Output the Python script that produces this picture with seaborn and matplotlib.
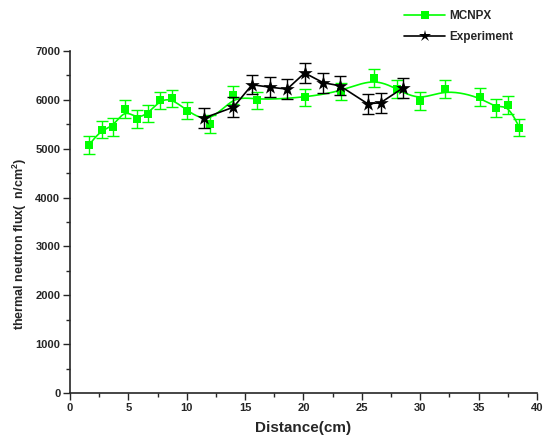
import numpy as np
import pandas as pd
import matplotlib
matplotlib.use("Agg")
import matplotlib.pyplot as plt
from matplotlib.lines import Line2D
from matplotlib.ticker import MultipleLocator
import seaborn as sns

# ---- data ----
mcnpx_x = [1.6, 2.7, 3.7, 4.7, 5.7, 6.7, 7.7, 8.7, 10.0, 12.0, 14.0, 16.0,
           20.1, 23.2, 26.0, 28.0, 30.0, 32.1, 35.1, 36.5, 37.5, 38.5]
mcnpx_y = [5070, 5390, 5450, 5810, 5610, 5720, 5990, 6030, 5780, 5500, 6100, 5990,
           6050, 6170, 6450, 6220, 5980, 6220, 6060, 5830, 5900, 5430]
mcnpx_err = [180] * len(mcnpx_x)

exp_x = [11.5, 14.0, 15.6, 17.1, 18.6, 20.1, 21.7, 23.1, 25.5, 26.6, 28.5]
exp_y = [5630, 5850, 6310, 6260, 6220, 6550, 6350, 6290, 5920, 5940, 6240]
exp_err = [200] * len(exp_x)

GREEN = "#00ff00"

sns.set_style("ticks")
plt.rcParams["font.family"] = ["Liberation Sans", "DejaVu Sans"]
plt.rcParams["mathtext.fontset"] = "custom"
plt.rcParams["mathtext.rm"] = "Liberation Sans:bold"
plt.rcParams["mathtext.it"] = "Liberation Sans:bold"
plt.rcParams["mathtext.bf"] = "Liberation Sans:bold"

fig = plt.figure(figsize=(5.45, 4.45), dpi=100)
ax = fig.add_axes([0.1284, 0.1169, 0.8569, 0.7685])


def bspline(xs, ys, n=30):
    # uniform cubic B-spline using data points as control points (clamped)
    P = np.column_stack([xs, ys]).astype(float)
    P = np.vstack([P[0], P[0], P, P[-1], P[-1]])
    out = []
    t = np.linspace(0, 1, n, endpoint=False)
    b0 = (1 - t) ** 3 / 6
    b1 = (3 * t ** 3 - 6 * t ** 2 + 4) / 6
    b2 = (-3 * t ** 3 + 3 * t ** 2 + 3 * t + 1) / 6
    b3 = t ** 3 / 6
    for i in range(len(P) - 3):
        seg = (np.outer(b0, P[i]) + np.outer(b1, P[i + 1]) +
               np.outer(b2, P[i + 2]) + np.outer(b3, P[i + 3]))
        out.append(seg)
    out.append(P[-1][None, :])
    return np.vstack(out)

curve = bspline(mcnpx_x, mcnpx_y)
ax.plot(curve[:, 0], curve[:, 1], color=GREEN, lw=1.2, zorder=2)

ax.errorbar(mcnpx_x, mcnpx_y, yerr=mcnpx_err, fmt="none", ecolor=GREEN,
            elinewidth=1.0, capsize=4, capthick=1.0, zorder=3)
df_m = pd.DataFrame({"x": mcnpx_x, "y": mcnpx_y})
sns.scatterplot(data=df_m, x="x", y="y", marker="s", s=28, color=GREEN,
                edgecolor=GREEN, linewidth=0, ax=ax, zorder=4)

df_e = pd.DataFrame({"x": exp_x, "y": exp_y})
sns.lineplot(data=df_e, x="x", y="y", sort=False, color="black", lw=1.2,
             ax=ax, zorder=5)
ax.errorbar(exp_x, exp_y, yerr=exp_err, fmt="none", ecolor="black",
            elinewidth=1.0, capsize=4, capthick=1.0, zorder=6)
sns.scatterplot(data=df_e, x="x", y="y", marker="*", s=120, color="black",
                edgecolor="black", linewidth=0, ax=ax, zorder=7)

ax.set_xlim(0, 40)
ax.set_ylim(0, 7000)
ax.xaxis.set_major_locator(MultipleLocator(5))
ax.xaxis.set_minor_locator(MultipleLocator(2.5))
ax.yaxis.set_major_locator(MultipleLocator(1000))
ax.yaxis.set_minor_locator(MultipleLocator(500))
ax.tick_params(axis="both", which="major", direction="out", length=5, width=1,
               labelsize=8, pad=2)
ax.tick_params(axis="both", which="minor", direction="out", length=3, width=1)
for lab in ax.get_xticklabels() + ax.get_yticklabels():
    lab.set_fontweight("bold")

sns.despine(ax=ax)
ax.spines["left"].set_linewidth(1.2)
ax.spines["bottom"].set_linewidth(1.2)

ax.set_xlabel("Distance(cm)", fontsize=11, fontweight="bold", labelpad=6)
ax.set_ylabel(r"thermal neutron flux(  n/cm$^{2}$)", fontsize=9,
              fontweight="bold")
ax.yaxis.set_label_coords(-0.088, 0.436)

handles = [
    Line2D([], [], color=GREEN, lw=1.2, marker="s", markersize=5.5,
           markeredgewidth=0),
    Line2D([], [], color="black", lw=1.2, marker="*", markersize=9,
           markeredgewidth=0),
]
leg = fig.legend(handles, ["MCNPX", "Experiment"], loc="upper left",
                 bbox_to_anchor=(0.728, 0.993), frameon=False,
                 prop={"weight": "bold", "size": 8.5}, handlelength=3.5,
                 handletextpad=0.35, labelspacing=0.75, borderaxespad=0.2)

fig.savefig("out.png", dpi=100)
